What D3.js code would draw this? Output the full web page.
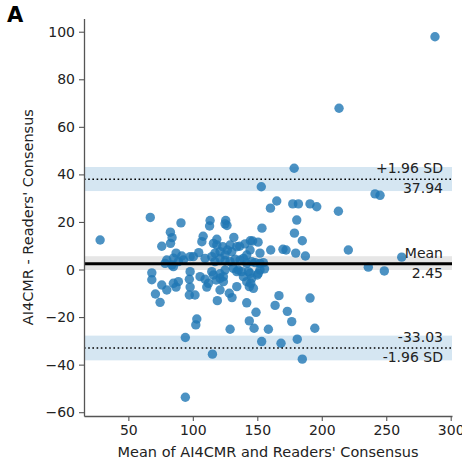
<!DOCTYPE html>
<html>
<head>
<meta charset="utf-8">
<script src="https://cdn.jsdelivr.net/npm/d3@7"></script>
<style>
  html, body { margin: 0; padding: 0; background: #fff; }
  svg { display: block; font-family: "DejaVu Sans", sans-serif; }
</style>
</head>
<body>
<svg id="chart" width="462" height="463"></svg>
<script>
// Bland–Altman agreement: AI4CMR vs. readers' consensus
const meanValues = [
  28.1, 67.0, 90.8, 75.9, 82.6, 83.9, 82.7, 68.2, 68.2, 71.0,
  74.6, 119.0, 141.8, 163.8, 190.9, 166.8, 103.1, 102.3, 149.0, 143.8,
  147.5, 128.9, 158.6, 173.3, 176.7, 194.6, 94.2, 153.4, 168.4, 181.0,
  115.2, 184.9, 94.2, 287.8, 213.4, 178.6, 153.1, 241.3, 245.2, 165.1,
  160.2, 177.5, 181.9, 190.9, 196.1, 212.9, 180.6, 153.6, 178.8, 184.9,
  160.4, 169.9, 172.3, 179.8, 187.3, 220.6, 262.0, 236.1, 248.5, 155.6,
  150.0, 113.4, 113.0, 125.5, 125.0, 126.5, 108.0, 107.0, 118.6, 116.0,
  131.8, 136.3, 140.5, 144.6, 146.4, 150.6, 104.6, 100.4, 144.4, 141.8,
  123.2, 126.8, 130.2, 121.1, 117.2, 125.0, 118.6, 134.1, 128.9, 152.1,
  97.9, 91.4, 87.0, 84.9, 79.8, 78.5, 83.7, 84.9, 88.8, 92.7,
  109.5, 114.7, 117.2, 121.1, 125.0, 128.9, 132.8, 136.6, 139.2, 141.8,
  145.7, 148.3, 152.1, 154.7, 97.9, 97.3, 97.9, 97.3, 101.7, 75.9,
  79.8, 84.9, 88.8, 87.0, 105.6, 109.5, 112.1, 110.8, 114.7, 118.1,
  121.1, 121.1, 128.3, 130.4, 125.0, 131.4, 135.3, 137.9, 139.2, 143.1,
  141.8, 145.7, 147.0, 152.1, 115.9, 123.7, 121.1, 144.9, 143.8, 123.7,
  134.1, 144.4, 134.1, 150.8
];
const differences = [
  12.4, 21.9, 19.6, 9.8, 15.7, 13.4, 11.0, -1.4, -4.3, -10.3,
  -13.8, -13.1, -14.0, -15.1, -12.0, -11.0, -20.8, -23.3, -18.0, -21.6,
  -24.7, -25.1, -25.1, -17.6, -21.9, -24.7, -28.6, -30.3, -31.0, -29.3,
  -35.6, -37.7, -53.7, 97.9, 67.8, 42.6, 34.8, 31.8, 31.2, 28.8,
  25.8, 27.6, 27.6, 27.6, 26.4, 24.5, 20.8, 17.4, 15.3, 12.1,
  8.2, 8.5, 8.2, 6.9, 5.7, 8.2, 5.2, 1.0, -0.6, 0.3,
  -2.3, 20.6, 18.3, 20.6, 19.2, 18.5, 14.0, 11.7, 12.7, 11.0,
  13.5, 9.8, 10.8, 12.1, 12.0, 11.5, 7.1, 5.4, 8.2, 6.1,
  9.6, 8.2, 7.5, 7.5, 6.9, 6.1, 10.3, 9.6, 10.3, 6.9,
  5.4, 5.7, 6.9, 4.8, 4.0, 2.6, 1.9, 1.2, 3.3, 4.0,
  4.7, 5.4, 3.3, 4.7, 3.7, 3.3, 4.3, 4.0, 4.7, 2.6,
  3.3, 2.9, 2.6, 2.9, -0.9, -4.1, -7.4, -10.7, -10.7, -6.5,
  -8.6, -5.8, -5.1, -7.4, -3.0, -4.1, -5.8, -7.4, -0.9, -4.4,
  -3.7, -8.6, -10.0, -11.8, -0.2, 0.5, -0.2, -0.9, -3.0, -0.9,
  -5.1, -3.7, -7.9, -0.2, -2.3, -3.0, -1.8, -5.8, -7.2, -5.1,
  -0.9, -1.6, -7.2, -1.6
];

// Agreement statistics: line value and shaded confidence band
const statNames  = ["upper", "mean", "lower"];
const statValues = [37.94, 2.45, -33.03];
const bandLow    = [33.0, -0.2, -38.2];
const bandHigh   = [43.1, 5.6, -27.8];
const labelAbove = ["+1.96 SD", "Mean", "-33.03"];
const labelBelow = ["37.94", "2.45", "-1.96 SD"];

const xTicks = [50, 100, 150, 200, 250, 300];
const yTicks = [-60, -40, -20, 0, 20, 40, 60, 80, 100];

const svg = d3.select("#chart");
const plotLeft = 84, plotRight = 452, plotTop = 18.4, plotBottom = 416;

const x = d3.scaleLinear().domain([15.6, 301]).range([plotLeft, plotRight]);
const y = d3.scaleLinear().domain([-61.6, 105.6]).range([plotBottom, plotTop]);

// confidence bands
const bandFill = ["#d5e6f2", "#e6e6e6", "#d5e6f2"];
svg.append("g").selectAll("rect")
  .data(statNames)
  .join("rect")
  .attr("x", plotLeft)
  .attr("width", plotRight - plotLeft)
  .attr("y", (d, i) => y(bandHigh[i]))
  .attr("height", (d, i) => y(bandLow[i]) - y(bandHigh[i]))
  .attr("fill", (d, i) => bandFill[i]);

// scatter points
svg.append("g").selectAll("circle")
  .data(meanValues)
  .join("circle")
  .attr("cx", d => x(d))
  .attr("cy", (d, i) => y(differences[i]))
  .attr("r", 4.7)
  .attr("fill", "#1f77b4")
  .attr("fill-opacity", 0.8);

// mean and limits of agreement
svg.append("g").selectAll("line")
  .data(statNames)
  .join("line")
  .attr("x1", plotLeft)
  .attr("x2", plotRight)
  .attr("y1", (d, i) => y(statValues[i]))
  .attr("y2", (d, i) => y(statValues[i]))
  .attr("stroke", "#000")
  .attr("stroke-width", (d) => d === "mean" ? 3 : 1.6)
  .attr("stroke-dasharray", (d) => d === "mean" ? null : "1.6,2.6");

const ann = svg.append("g")
  .attr("font-size", 14)
  .attr("fill", "#222")
  .attr("text-anchor", "end");
ann.selectAll("text.above")
  .data(statNames)
  .join("text")
  .attr("class", "above")
  .attr("x", 443)
  .attr("y", (d, i) => y(statValues[i]) - 6)
  .text((d, i) => labelAbove[i]);
ann.selectAll("text.below")
  .data(statNames)
  .join("text")
  .attr("class", "below")
  .attr("x", 443)
  .attr("y", (d, i) => y(statValues[i]) + 14)
  .text((d, i) => labelBelow[i]);

// axes
const xAxis = svg.append("g")
  .attr("transform", `translate(0,${plotBottom})`)
  .call(d3.axisBottom(x).tickValues(xTicks).tickSizeOuter(0).tickSizeInner(5).tickPadding(4));
const yAxis = svg.append("g")
  .attr("transform", `translate(${plotLeft},0)`)
  .call(d3.axisLeft(y).tickValues(yTicks).tickSizeOuter(0).tickSizeInner(5).tickPadding(4));

[xAxis, yAxis].forEach(g => {
  g.attr("font-size", 14).attr("font-family", "DejaVu Sans, sans-serif");
  g.select(".domain").attr("stroke", "#555").attr("stroke-width", 1.3);
  g.selectAll(".tick line").attr("stroke", "#555").attr("stroke-width", 1.1);
  g.selectAll(".tick text").attr("fill", "#222");
});

// axis titles
svg.append("text")
  .attr("x", (plotLeft + plotRight) / 2)
  .attr("y", 457)
  .attr("text-anchor", "middle")
  .attr("font-size", 14.5)
  .attr("fill", "#222")
  .text("Mean of AI4CMR and Readers' Consensus");

svg.append("text")
  .attr("transform", `translate(33,${(plotTop + plotBottom) / 2}) rotate(-90)`)
  .attr("text-anchor", "middle")
  .attr("font-size", 14.5)
  .attr("fill", "#222")
  .text("AI4CMR - Readers' Consensus");

// panel letter
svg.append("text")
  .attr("x", 7)
  .attr("y", 22)
  .attr("font-size", 21)
  .attr("font-weight", "bold")
  .attr("fill", "#000")
  .text("A");
</script>
</body>
</html>
